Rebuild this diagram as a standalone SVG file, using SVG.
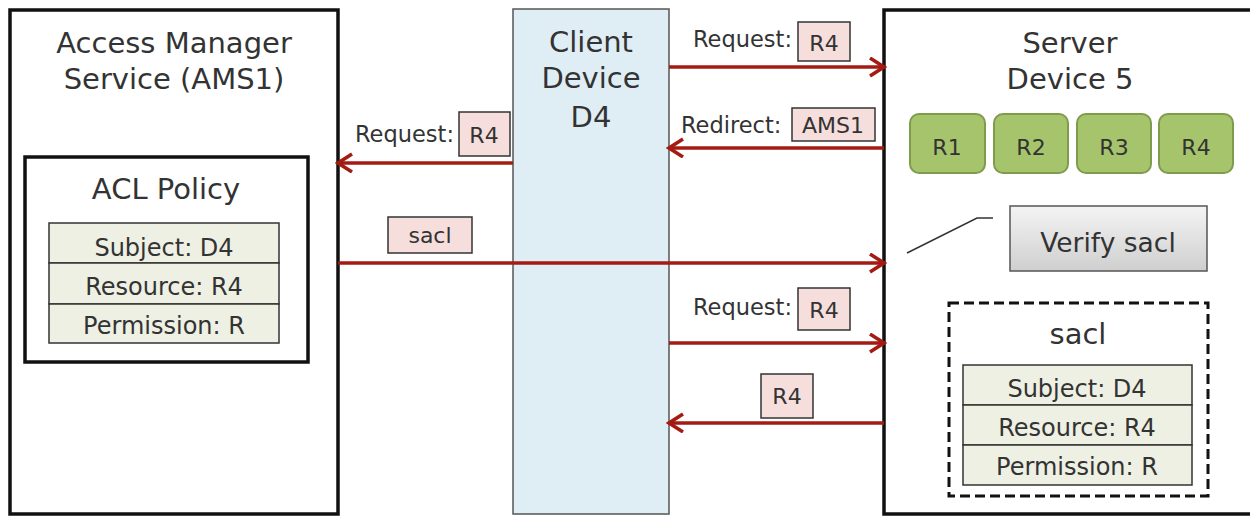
<svg xmlns="http://www.w3.org/2000/svg" width="1250" height="516" viewBox="0 0 1250 516">
<style>
text{font-family:"DejaVu Sans","Liberation Sans",sans-serif;fill:#333;text-anchor:middle}
.big{font-size:29px}
.mid{font-size:24px}
.sm{font-size:22px}
.lbl{font-size:22.5px;text-anchor:start}
.thick{fill:#fff;stroke:#111;stroke-width:3.5}
.row{fill:#eef0e3;stroke:#333;stroke-width:1.5}
.tag{fill:#f6dedc;stroke:#333;stroke-width:1.5}
.res{fill:#a6c46c;stroke:#7f9c4c;stroke-width:2}
.arrow{stroke:#a31b12;stroke-width:3.5;fill:none;marker-end:url(#ah)}
</style>
<defs>
<marker id="ah" markerUnits="userSpaceOnUse" markerWidth="20" markerHeight="24" refX="17" refY="10" orient="auto">
<path d="M3,1 L17,10 L3,19" fill="none" stroke="#a31b12" stroke-width="3.5"/>
</marker>
<linearGradient id="gv" x1="0" y1="0" x2="0" y2="1">
<stop offset="0" stop-color="#f4f4f4"/>
<stop offset="1" stop-color="#cfcfcf"/>
</linearGradient>
</defs>

<g id="ams">
<rect class="thick" x="10" y="10" width="328" height="504"/>
<text class="big" x="174" y="53">Access Manager</text>
<text class="big" x="174" y="89">Service (AMS1)</text>
</g>
<g id="acl-policy">
<rect class="thick" x="25" y="157" width="283" height="205"/>
<text class="big" x="166" y="199">ACL Policy</text>
<rect class="row" x="49" y="223" width="230" height="40"/>
<rect class="row" x="49" y="263" width="230" height="41"/>
<rect class="row" x="49" y="304" width="230" height="39"/>
<text class="mid" x="164" y="256">Subject: D4</text>
<text class="mid" x="164" y="295">Resource: R4</text>
<text class="mid" x="164" y="334">Permission: R</text>
</g>

<g id="client">
<rect x="513" y="9" width="156" height="505" fill="#dfeef4" stroke="#555" stroke-width="1.5"/>
<text class="big" x="591" y="52">Client</text>
<text class="big" x="591" y="88">Device</text>
<text class="big" x="591" y="127">D4</text>
</g>

<g id="server">
<rect class="thick" x="884" y="10" width="380" height="504"/>
<text class="big" x="1070" y="53">Server</text>
<text class="big" x="1070" y="89">Device 5</text>
</g>
<g id="r1"><rect class="res" x="910" y="114" width="75" height="59" rx="9"/><text class="sm" x="947" y="155">R1</text></g>
<g id="r2"><rect class="res" x="994" y="114" width="74" height="59" rx="9"/><text class="sm" x="1031" y="155">R2</text></g>
<g id="r3"><rect class="res" x="1077" y="114" width="74" height="59" rx="9"/><text class="sm" x="1114" y="155">R3</text></g>
<g id="r4"><rect class="res" x="1159" y="114" width="74" height="59" rx="9"/><text class="sm" x="1196" y="155">R4</text></g>

<g id="verify">
<rect x="1010" y="206" width="197" height="65" fill="url(#gv)" stroke="#555" stroke-width="1.5"/>
<text x="1108" y="252" style="font-size:26.5px">Verify sacl</text>
<path d="M907,253 L977,218 L993,218" fill="none" stroke="#333" stroke-width="1.5"/>
</g>

<g id="sacl">
<rect x="949" y="303" width="259" height="193" fill="#fff" stroke="#111" stroke-width="3" stroke-dasharray="10,5"/>
<text class="big" x="1078" y="344">sacl</text>
<rect class="row" x="963" y="365" width="229" height="40"/>
<rect class="row" x="963" y="405" width="229" height="40"/>
<rect class="row" x="963" y="445" width="229" height="40"/>
<text class="mid" x="1077" y="397">Subject: D4</text>
<text class="mid" x="1077" y="436">Resource: R4</text>
<text class="mid" x="1077" y="475">Permission: R</text>
</g>

<g id="connectors">
<line class="arrow" x1="669" y1="67" x2="884" y2="67"/>
<text class="lbl" x="693" y="47">Request:</text>
<rect class="tag" x="798" y="22" width="52" height="39"/>
<text class="sm" x="824" y="51">R4</text>

<line class="arrow" x1="884" y1="148" x2="669" y2="148"/>
<text class="lbl" x="681" y="133">Redirect:</text>
<rect class="tag" x="792" y="108" width="83" height="33"/>
<text class="sm" x="833" y="133">AMS1</text>

<line class="arrow" x1="513" y1="163" x2="338" y2="163"/>
<text class="lbl" x="355" y="142">Request:</text>
<rect class="tag" x="459" y="112" width="51" height="44"/>
<text class="sm" x="484" y="143">R4</text>

<line class="arrow" x1="338" y1="263" x2="884" y2="263"/>
<rect class="tag" x="388" y="217" width="84" height="36"/>
<text class="sm" x="430" y="243">sacl</text>

<line class="arrow" x1="669" y1="343" x2="884" y2="343"/>
<text class="lbl" x="693" y="315">Request:</text>
<rect class="tag" x="798" y="288" width="52" height="42"/>
<text class="sm" x="824" y="318">R4</text>

<line class="arrow" x1="884" y1="423" x2="669" y2="423"/>
<rect class="tag" x="761" y="374" width="52" height="44"/>
<text class="sm" x="787" y="404">R4</text>
</g>
</svg>
